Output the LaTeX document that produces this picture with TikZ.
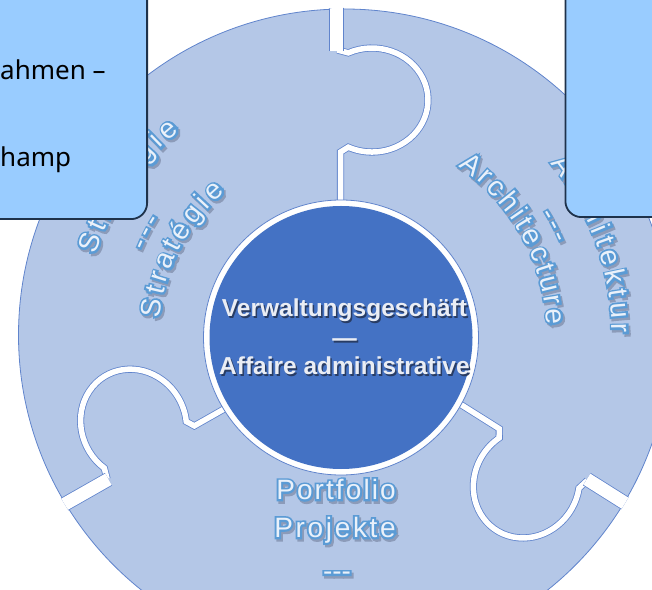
\documentclass[tikz,border=0pt]{standalone}
\usepackage{fontspec}
\setmainfont{Liberation Sans}
\newfontfamily\boxfont{Noto Sans}
\newfontfamily\arcline[FakeBold=14]{Liberation Sans}
\usetikzlibrary{decorations.text}
\definecolor{ringfill}{RGB}{180,199,231}
\definecolor{ringedge}{RGB}{96,132,204}
\definecolor{corefill}{RGB}{68,114,196}
\definecolor{boxfill}{RGB}{153,204,255}
\definecolor{boxedge}{RGB}{30,50,75}
\definecolor{txtline}{RGB}{91,155,213}
\definecolor{txtfill}{RGB}{234,241,250}
\definecolor{txtshadow}{RGB}{140,155,185}
\definecolor{coretext}{RGB}{234,237,244}
\definecolor{coreshadow}{RGB}{40,60,100}
\tikzset{
  cutline/.style={draw=ringedge, line width=0.8pt, double=white, double distance=#1},
  infobox/.style={draw=boxedge, fill=boxfill, line width=1.8pt, rounded corners=16pt, inner sep=0pt},
  coretxt/.style={font=\bfseries\fontsize{24.5}{24.5}\selectfont, inner sep=0pt, text=coretext, anchor=base},
  boxtxt/.style={font=\boxfont\fontsize{26}{26}\selectfont, inner sep=0pt, anchor=base west, text=black},
}
\newcommand\arcstyline{\arcline\fontsize{28}{28}\selectfont}
\newcommand\arcstyfill{\fontsize{28}{28}\selectfont}
\newcommand\glowtext[3]{%
  \path[shift={(1.8,-2.4)},decorate,decoration={text along path,text align={#1},text color=txtshadow,text={|\arcstyline|#3}}] #2;
  \path[decorate,decoration={text along path,text align={#1},text color=txtline,text={|\arcstyline|#3}}] #2;
  \path[decorate,decoration={text along path,text align={#1},text color=txtfill,text={|\arcstyfill|#3}}] #2;
}
\newcommand\coreline[3]{%
  \node[coretxt, text=coreshadow] at (346,#2-1.5) {#3};
  \node[coretxt] (#1) at (344.5,#2) {#3};
}
\begin{document}
\begin{tikzpicture}[x=1pt,y=1pt]
\useasboundingbox (0,0) rectangle (652,589);
\clip (0,0) rectangle (652,589);
% puzzle ring
\fill[ringfill] (344.5,254) circle[radius=326];
\draw[ringedge, line width=0.8pt] (344.5,254) circle[radius=326];
\begin{scope}
  \clip (344.5,254) circle[radius=327];
  \foreach \r/\s in {0/0, 119.6/-9, 237.8/-3.6}{
    \begin{scope}[shift={(344.5,253)},rotate=\r,yshift=\s]
      \draw[cutline=5.5pt] (-7,286) -- (3.8,283.1) arc[start angle=115,end angle=-115,x radius=56,y radius=52] -- (-4,184) -- (-4,100);
      \draw[cutline=13pt] (-8,350) -- (-8,285);
    \end{scope}
  }
\end{scope}
% centre
\node[circle, draw=ringedge, line width=0.8pt, fill=white, minimum size=275pt, inner sep=0pt] (ring) at (341,251.5) {};
\node[circle, fill=corefill, minimum size=263pt, inner sep=0pt] (core) at (341,251.5) {};
% curved texts
\begin{scope}[shift={(344,255)}]
  \glowtext{fit to path}{(162.3:261) arc[start angle=162.3,end angle=129,radius=261]}{Strategie}
  \glowtext{fit to path}{(157.4:215) arc[start angle=157.4,end angle=148,radius=215]}{---}
  \glowtext{fit to path}{(175.1:185) arc[start angle=175.1,end angle=129.9,radius=185]}{Stratégie}
  \glowtext{fit to path}{(39.5:268) arc[start angle=39.5,end angle=0.2,radius=268]}{Architektur}
  \glowtext{fit to path}{(31.5:229) arc[start angle=31.5,end angle=23.1,radius=229]}{---}
  \glowtext{fit to path}{(55.7:203) arc[start angle=55.7,end angle=2.6,radius=203]}{Architecture}
\end{scope}
\glowtext{fit to path}{(276.3,89.5) -- (395.7,89.5)}{Portfolio}
\glowtext{fit to path}{(274.3,51.7) -- (395.7,51.7)}{Projekte}
\glowtext{center}{(300,8.4) -- (374,8.4)}{---}
% centre text
\coreline{t1}{272}{Verwaltungsgeschäft}
\coreline{t2}{242.4}{—}
\coreline{t3}{214}{Affaire administrative}
% boxes
\node[infobox, minimum width=200pt, minimum height=260pt, anchor=south east] (leftbox) at (148,369) {};
\node[infobox, minimum width=150pt, minimum height=260pt, anchor=south west] (rightbox) at (564.5,371) {};
\node[boxtxt] (lb1) at (0,509) {ahmen –};
\node[boxtxt] (lb2) at (0,422) {hamp};
\end{tikzpicture}
\end{document}
